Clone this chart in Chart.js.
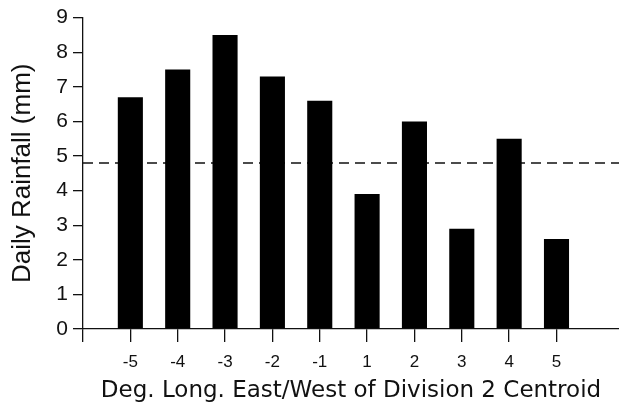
<!DOCTYPE html>
<html>
<head>
<meta charset="utf-8">
<script src="https://cdn.jsdelivr.net/npm/chart.js@4"></script>
<style>
  html, body { margin: 0; padding: 0; background: #fff; }
  canvas { display: block; }
</style>
</head>
<body>
<canvas id="chart" width="619" height="411"></canvas>
<script>
// degrees of longitude east/west of the Division 2 centroid
const offsets = ["-5", "-4", "-3", "-2", "-1", "1", "2", "3", "4", "5"];
const rainfall = [6.7, 7.5, 8.5, 7.3, 6.6, 3.9, 6.0, 2.9, 5.5, 2.6];
const meanRainfall = 4.8;
const yTicks = [0, 1, 2, 3, 4, 5, 6, 7, 8, 9];

// x runs on slot index, with one empty slot to the left of -5
const X_MIN = -1;
const X_MAX = 10.32;

const barData = rainfall.map((v, i) => ({ x: i, y: v }));
const meanLine = [{ x: X_MIN, y: meanRainfall }, { x: X_MAX, y: meanRainfall }];

new Chart(document.getElementById("chart"), {
  data: {
    datasets: [
      {
        type: "bar",
        data: barData,
        backgroundColor: "#000",
        borderWidth: 0,
        barPercentage: 0.53,
        categoryPercentage: 1,
        order: 0
      },
      {
        type: "line",
        data: meanLine,
        borderColor: "#111",
        borderWidth: 1.5,
        borderDash: [10, 6],
        pointRadius: 0,
        fill: false,
        order: 1
      }
    ]
  },
  options: {
    responsive: false,
    devicePixelRatio: 1,
    animation: false,
    layout: { padding: { top: 15, right: 0, bottom: 0, left: 0 } },
    plugins: {
      legend: { display: false },
      tooltip: { enabled: false }
    },
    scales: {
      x: {
        type: "linear",
        min: X_MIN,
        max: X_MAX,
        offset: false,
        afterFit: s => { s.height = 82; },
        afterBuildTicks: s => {
          s.ticks = s.ticks.filter(t => t.value <= offsets.length - 1);
        },
        border: { display: true, color: "#111", width: 1.3 },
        grid: {
          offset: false,
          drawOnChartArea: false,
          drawTicks: true,
          tickLength: 13,
          color: "#111",
          lineWidth: 1.3
        },
        ticks: {
          stepSize: 1,
          includeBounds: false,
          autoSkip: false,
          maxRotation: 0,
          padding: 10,
          color: "#111",
          font: { family: "'Liberation Sans', Arial, sans-serif", size: 17 },
          callback: v => offsets[v] !== undefined ? offsets[v] : ""
        },
        title: {
          display: true,
          text: "Deg. Long. East/West of Division 2 Centroid",
          color: "#111",
          font: { family: "'DejaVu Sans', Verdana, sans-serif", size: 23 },
          padding: { top: 0, bottom: 6 }
        }
      },
      y: {
        min: 0,
        max: 9,
        afterFit: s => { s.width = 83; },
        afterBuildTicks: s => {
          s.ticks = yTicks.map(v => ({ value: v }));
        },
        border: { display: true, color: "#111", width: 1.3 },
        grid: {
          drawOnChartArea: false,
          drawTicks: true,
          tickLength: 10,
          color: "#111",
          lineWidth: 1.3
        },
        ticks: {
          stepSize: 1,
          padding: 5,
          color: "#111",
          font: { family: "'Liberation Sans', Arial, sans-serif", size: 21 }
        },
        title: {
          display: true,
          text: "Daily Rainfall (mm)",
          color: "#111",
          font: { family: "'Liberation Sans', Arial, sans-serif", size: 26 },
          padding: { top: 7, bottom: 0 }
        }
      }
    }
  }
});
</script>
</body>
</html>
